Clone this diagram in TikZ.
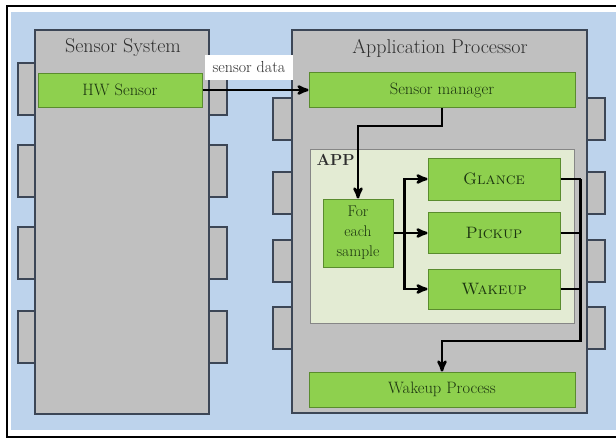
\documentclass[tikz,border=0pt]{standalone}
\usepackage{tikz}
\usetikzlibrary{positioning,arrows}
\definecolor{bgblue}{HTML}{BDD3EC}
\definecolor{chipgray}{HTML}{C0C0C0}
\definecolor{chipline}{HTML}{3C4656}
\definecolor{boxgreen}{HTML}{8ED04E}
\definecolor{boxline}{HTML}{5A8C2E}
\definecolor{appfill}{HTML}{E3EBD3}
\definecolor{txtgreen}{HTML}{1C3510}
\definecolor{txtgray}{HTML}{2E2E2E}

\begin{document}
\begin{tikzpicture}[x=1pt,y=-1pt,>=stealth',
        chip/.style={rectangle,draw=chipline,fill=chipgray,line width=1.6pt,inner sep=0pt},
        pin/.style={draw=chipline,fill=chipgray,line width=1.6pt},
        title/.style={text=txtgray,font=\fontsize{20}{23}\selectfont},
        green box/.style={rectangle,draw=boxline,fill=boxgreen,line width=1pt,inner sep=0pt,
            text=txtgreen,font=\fontsize{16.5}{19}\selectfont},
        flow/.style={line width=2.6pt,black}]

    \useasboundingbox (0,0) rectangle (616,439);
    \fill[white] (0,0) rectangle (616,439);
    \fill[bgblue] (11,12) rectangle (616,430);
    \draw[line width=2.5pt] (616,6) -- (7,6) -- (7,437) -- (616,437);

    % pins of the two chips
    \foreach \y in {63,145,227,311} {
        \draw[pin] (18,\y) rectangle (40,\y+52);
        \draw[pin] (204,\y) rectangle (227,\y+52);
    }
    \foreach \y in {98,172,240,307} {
        \draw[pin] (273,\y) rectangle (297,\y+42);
        \draw[pin] (582,\y) rectangle (605,\y+42);
    }

    \node[chip,minimum width=174pt,minimum height=384pt] (ss) at (122,222) {};
    \node[chip,minimum width=295pt,minimum height=383pt] (ap) at (439.5,221.5) {};
    \node[title] (sstitle) at (123,48) {Sensor System};
    \node[title] (aptitle) at (440,48) {Application Processor};

    \node[green box,minimum width=164pt,minimum height=34pt] (hw) at (120,90) {HW Sensor};
    \node[green box,minimum width=266pt,minimum height=35pt] (sm) at (442,90) {Sensor manager};

    \node[rectangle,draw=chipgray!70!black,fill=appfill,line width=1pt,
        minimum width=264pt,minimum height=174pt] (app) at (442,236) {};
    \node[font=\fontsize{16}{18}\selectfont\bfseries,text=txtgray,anchor=north west]
        (applabel) at (313,151) {APP};

    \node[green box,minimum width=70pt,minimum height=68pt,align=center,
        font=\fontsize{15.5}{20}\selectfont] (fes) at (358,233) {For\\each\\sample};
    \node[green box,minimum width=132pt,minimum height=42pt] (glance) at (494,179) {\textsc{Glance}};
    \node[green box,minimum width=132pt,minimum height=41pt] (pickup) at (494,233) {\textsc{Pickup}};
    \node[green box,minimum width=132pt,minimum height=40pt] (wakeup) at (494,289) {\textsc{Wakeup}};

    \node[green box,minimum width=266pt,minimum height=35pt] (wp) at (442,389.5) {Wakeup Process};

    \node[fill=white,minimum width=88pt,minimum height=25pt,inner sep=0pt,
        font=\fontsize{16}{18}\selectfont,text=txtgray] (data) at (249,67) {sensor data};

    \draw[flow,->] (hw.east) -- (hw.east -| sm.west);
    \draw[flow,->] (sm.south) -- ++(0,18) -| (fes.north);

    \draw[flow] (fes.east) -- ++(11,0) coordinate (split);
    \draw[flow,->] (split) |- (glance.west);
    \draw[flow,->] (split) -- (pickup.west);
    \draw[flow,->] (split) |- (wakeup.west);

    \draw[flow] (glance.east) -- ++(20,0) coordinate (join);
    \draw[flow] (pickup.east) -- (pickup.east -| join);
    \draw[flow] (wakeup.east) -- (wakeup.east -| join);
    \draw[flow,->] (join) -- ++(0,162) -| (wp.north);

\end{tikzpicture}
\end{document}
